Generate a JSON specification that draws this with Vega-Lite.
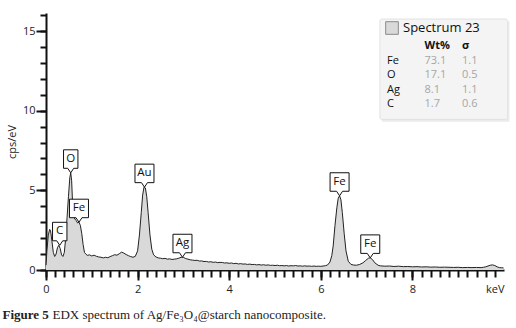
{
  "$schema": "https://vega.github.io/schema/vega-lite/v6.json",
  "width": 458,
  "height": 257,
  "autosize": {"type": "none"},
  "padding": {"left": 46, "top": 13, "right": 12, "bottom": 58},
  "background": "white",
  "config": {"view": {"stroke": null}},
  "datasets": {
    "spectrum": [
      {"keV": 0.0, "cps": 0.3}, {"keV": 0.02, "cps": 1.2}, {"keV": 0.05, "cps": 2.2}, {"keV": 0.08, "cps": 2.55},
      {"keV": 0.1, "cps": 2.45}, {"keV": 0.13, "cps": 1.8}, {"keV": 0.16, "cps": 1.1}, {"keV": 0.19, "cps": 0.85},
      {"keV": 0.22, "cps": 1.0}, {"keV": 0.25, "cps": 1.4}, {"keV": 0.28, "cps": 1.55}, {"keV": 0.31, "cps": 1.35},
      {"keV": 0.34, "cps": 0.95}, {"keV": 0.37, "cps": 0.85}, {"keV": 0.4, "cps": 1.1}, {"keV": 0.43, "cps": 2.0},
      {"keV": 0.46, "cps": 3.3}, {"keV": 0.49, "cps": 4.6}, {"keV": 0.52, "cps": 5.8}, {"keV": 0.54, "cps": 6.1},
      {"keV": 0.56, "cps": 5.6}, {"keV": 0.58, "cps": 4.2}, {"keV": 0.6, "cps": 3.4}, {"keV": 0.63, "cps": 3.2},
      {"keV": 0.66, "cps": 3.1}, {"keV": 0.69, "cps": 2.95}, {"keV": 0.72, "cps": 3.0}, {"keV": 0.75, "cps": 2.8},
      {"keV": 0.78, "cps": 2.3}, {"keV": 0.81, "cps": 1.6}, {"keV": 0.84, "cps": 1.1}, {"keV": 0.87, "cps": 1.0},
      {"keV": 0.9, "cps": 0.92}, {"keV": 0.95, "cps": 0.95}, {"keV": 1.0, "cps": 0.88}, {"keV": 1.05, "cps": 0.93},
      {"keV": 1.1, "cps": 0.86}, {"keV": 1.15, "cps": 0.82}, {"keV": 1.2, "cps": 0.8}, {"keV": 1.25, "cps": 0.76},
      {"keV": 1.3, "cps": 0.8}, {"keV": 1.35, "cps": 0.77}, {"keV": 1.4, "cps": 0.84}, {"keV": 1.45, "cps": 0.9},
      {"keV": 1.5, "cps": 0.96}, {"keV": 1.55, "cps": 0.93}, {"keV": 1.6, "cps": 1.02}, {"keV": 1.65, "cps": 1.12},
      {"keV": 1.7, "cps": 1.06}, {"keV": 1.75, "cps": 0.97}, {"keV": 1.8, "cps": 0.9}, {"keV": 1.85, "cps": 0.84},
      {"keV": 1.9, "cps": 0.8}, {"keV": 1.95, "cps": 0.86}, {"keV": 2.0, "cps": 1.2}, {"keV": 2.04, "cps": 2.2},
      {"keV": 2.08, "cps": 3.6}, {"keV": 2.11, "cps": 4.7}, {"keV": 2.14, "cps": 5.2}, {"keV": 2.17, "cps": 5.15},
      {"keV": 2.2, "cps": 4.6}, {"keV": 2.23, "cps": 3.6}, {"keV": 2.27, "cps": 2.2}, {"keV": 2.31, "cps": 1.3},
      {"keV": 2.35, "cps": 0.95}, {"keV": 2.4, "cps": 0.82}, {"keV": 2.45, "cps": 0.76}, {"keV": 2.5, "cps": 0.74},
      {"keV": 2.55, "cps": 0.71}, {"keV": 2.6, "cps": 0.73}, {"keV": 2.65, "cps": 0.68}, {"keV": 2.7, "cps": 0.7},
      {"keV": 2.75, "cps": 0.66}, {"keV": 2.8, "cps": 0.68}, {"keV": 2.85, "cps": 0.7}, {"keV": 2.9, "cps": 0.74},
      {"keV": 2.95, "cps": 0.8}, {"keV": 3.0, "cps": 0.79}, {"keV": 3.05, "cps": 0.72}, {"keV": 3.1, "cps": 0.68},
      {"keV": 3.15, "cps": 0.64}, {"keV": 3.2, "cps": 0.62}, {"keV": 3.25, "cps": 0.6}, {"keV": 3.3, "cps": 0.61},
      {"keV": 3.35, "cps": 0.56}, {"keV": 3.4, "cps": 0.57}, {"keV": 3.45, "cps": 0.53}, {"keV": 3.5, "cps": 0.54},
      {"keV": 3.55, "cps": 0.5}, {"keV": 3.6, "cps": 0.52}, {"keV": 3.65, "cps": 0.48}, {"keV": 3.7, "cps": 0.5},
      {"keV": 3.75, "cps": 0.46}, {"keV": 3.8, "cps": 0.48}, {"keV": 3.85, "cps": 0.47}, {"keV": 3.9, "cps": 0.44},
      {"keV": 3.95, "cps": 0.45}, {"keV": 4.0, "cps": 0.42}, {"keV": 4.05, "cps": 0.44}, {"keV": 4.1, "cps": 0.4},
      {"keV": 4.15, "cps": 0.42}, {"keV": 4.2, "cps": 0.38}, {"keV": 4.25, "cps": 0.4}, {"keV": 4.3, "cps": 0.37},
      {"keV": 4.35, "cps": 0.38}, {"keV": 4.4, "cps": 0.35}, {"keV": 4.45, "cps": 0.37}, {"keV": 4.5, "cps": 0.34},
      {"keV": 4.55, "cps": 0.35}, {"keV": 4.6, "cps": 0.32}, {"keV": 4.65, "cps": 0.34}, {"keV": 4.7, "cps": 0.31},
      {"keV": 4.75, "cps": 0.33}, {"keV": 4.8, "cps": 0.3}, {"keV": 4.85, "cps": 0.32}, {"keV": 4.9, "cps": 0.29},
      {"keV": 4.95, "cps": 0.3}, {"keV": 5.0, "cps": 0.28}, {"keV": 5.05, "cps": 0.3}, {"keV": 5.1, "cps": 0.27},
      {"keV": 5.15, "cps": 0.28}, {"keV": 5.2, "cps": 0.26}, {"keV": 5.25, "cps": 0.28}, {"keV": 5.3, "cps": 0.25},
      {"keV": 5.35, "cps": 0.27}, {"keV": 5.4, "cps": 0.26}, {"keV": 5.45, "cps": 0.28}, {"keV": 5.5, "cps": 0.25},
      {"keV": 5.55, "cps": 0.26}, {"keV": 5.6, "cps": 0.24}, {"keV": 5.65, "cps": 0.26}, {"keV": 5.7, "cps": 0.24},
      {"keV": 5.75, "cps": 0.25}, {"keV": 5.8, "cps": 0.23}, {"keV": 5.85, "cps": 0.25}, {"keV": 5.9, "cps": 0.23},
      {"keV": 5.95, "cps": 0.24}, {"keV": 6.0, "cps": 0.23}, {"keV": 6.05, "cps": 0.25}, {"keV": 6.1, "cps": 0.27},
      {"keV": 6.15, "cps": 0.32}, {"keV": 6.2, "cps": 0.5}, {"keV": 6.24, "cps": 0.9}, {"keV": 6.27, "cps": 1.5},
      {"keV": 6.31, "cps": 2.8}, {"keV": 6.35, "cps": 3.9}, {"keV": 6.38, "cps": 4.5}, {"keV": 6.41, "cps": 4.66},
      {"keV": 6.44, "cps": 4.4}, {"keV": 6.47, "cps": 3.6}, {"keV": 6.51, "cps": 2.3}, {"keV": 6.55, "cps": 1.2},
      {"keV": 6.6, "cps": 0.55}, {"keV": 6.66, "cps": 0.35}, {"keV": 6.72, "cps": 0.31}, {"keV": 6.78, "cps": 0.3},
      {"keV": 6.85, "cps": 0.35}, {"keV": 6.92, "cps": 0.45}, {"keV": 6.98, "cps": 0.6}, {"keV": 7.04, "cps": 0.74},
      {"keV": 7.08, "cps": 0.76}, {"keV": 7.13, "cps": 0.65}, {"keV": 7.18, "cps": 0.45}, {"keV": 7.25, "cps": 0.3},
      {"keV": 7.3, "cps": 0.26}, {"keV": 7.4, "cps": 0.24}, {"keV": 7.5, "cps": 0.25}, {"keV": 7.6, "cps": 0.22},
      {"keV": 7.7, "cps": 0.24}, {"keV": 7.8, "cps": 0.21}, {"keV": 7.9, "cps": 0.22}, {"keV": 8.0, "cps": 0.2},
      {"keV": 8.1, "cps": 0.21}, {"keV": 8.2, "cps": 0.19}, {"keV": 8.3, "cps": 0.2}, {"keV": 8.4, "cps": 0.18},
      {"keV": 8.5, "cps": 0.19}, {"keV": 8.6, "cps": 0.17}, {"keV": 8.7, "cps": 0.18}, {"keV": 8.8, "cps": 0.17},
      {"keV": 8.9, "cps": 0.16}, {"keV": 9.0, "cps": 0.17}, {"keV": 9.1, "cps": 0.15}, {"keV": 9.2, "cps": 0.16},
      {"keV": 9.3, "cps": 0.15}, {"keV": 9.4, "cps": 0.16}, {"keV": 9.5, "cps": 0.15}, {"keV": 9.55, "cps": 0.17},
      {"keV": 9.6, "cps": 0.2}, {"keV": 9.65, "cps": 0.25}, {"keV": 9.7, "cps": 0.3}, {"keV": 9.75, "cps": 0.32},
      {"keV": 9.8, "cps": 0.28}, {"keV": 9.85, "cps": 0.2}, {"keV": 9.9, "cps": 0.15}, {"keV": 9.95, "cps": 0.14},
      {"keV": 9.99, "cps": 0.13}
    ],
    "peaks": [
      {"el": "C", "keV": 0.3, "cps": 1.55},
      {"el": "O", "keV": 0.54, "cps": 6.1},
      {"el": "Fe", "keV": 0.72, "cps": 3.0},
      {"el": "Au", "keV": 2.15, "cps": 5.2},
      {"el": "Ag", "keV": 2.98, "cps": 0.8},
      {"el": "Fe", "keV": 6.41, "cps": 4.66},
      {"el": "Fe", "keV": 7.08, "cps": 0.76}
    ],
    "table": [
      {"el": "Fe", "wt": "73.1", "sigma": "1.1"},
      {"el": "O", "wt": "17.1", "sigma": "0.5"},
      {"el": "Ag", "wt": "8.1", "sigma": "1.1"},
      {"el": "C", "wt": "1.7", "sigma": "0.6"}
    ],
    "header": [
      {"el": "hdr", "col": "wt", "txt": "Wt%"},
      {"el": "hdr", "col": "sigma", "txt": "σ"}
    ]
  },
  "resolve": {
    "scale": {"x": "independent", "y": "independent"},
    "axis": {"x": "independent", "y": "independent"}
  },
  "layer": [
    {
      "data": {"name": "spectrum"},
      "mark": {"type": "area", "line": false, "interpolate": "linear"},
      "encoding": {
        "x": {
          "field": "keV", "type": "quantitative",
          "scale": {"domain": [0, 10], "nice": false, "zero": false},
          "axis": {
            "orient": "bottom",
            "values": [0, 2, 4, 6, 8, 10],
            "labelExpr": "datum.value == 10 ? 'keV' : datum.label",
            "labelAlign": {"condition": {"test": "datum.value == 10", "value": "right"}, "value": "center"},
            "tickColor": {"condition": {"test": "datum.value == 10", "value": "transparent"}, "value": "#111"},
            "tickSize": 10, "tickWidth": 2,
            "domain": true, "domainColor": "#111", "domainWidth": 2,
            "grid": false,
            "labelFont": "Open Sans", "labelFontSize": 11, "labelColor": "#222", "labelPadding": 3,
            "labelFlush": false, "labelOverlap": false,
            "title": "Figure 5",
            "titleFont": "Liberation Serif", "titleFontSize": 13, "titleFontWeight": "bold", "titleColor": "#222",
            "titleX": -44, "titleY": 48, "titleAlign": "left", "titleBaseline": "alphabetic", "titleAnchor": "start"
          }
        },
        "y": {
          "field": "cps", "type": "quantitative",
          "scale": {"domain": [0, 16.13], "nice": false, "zero": true},
          "axis": {
            "orient": "left",
            "values": [0, 5, 10, 15],
            "tickSize": 10, "tickWidth": 2, "tickColor": "#111",
            "domain": true, "domainColor": "#111", "domainWidth": 2,
            "grid": false,
            "labelFont": "Open Sans", "labelFontSize": 11, "labelColor": "#222", "labelPadding": 1,
            "labelFlush": false, "labelOverlap": false,
            "title": "cps/eV",
            "titleFont": "Open Sans", "titleFontSize": 11, "titleFontWeight": "normal", "titleColor": "#222",
            "titleX": -34, "titleY": 128.5, "titleAngle": 270, "titleAlign": "center", "titleBaseline": "middle"
          }
        },
        "fill": {
          "datum": "Spectrum 23", "type": "nominal",
          "scale": {"range": ["#d9d9d9"]},
          "legend": {
            "orient": "none", "legendX": 339, "legendY": 8, "title": null,
            "symbolType": "square", "symbolSize": 160,
            "symbolStrokeColor": "#8a8a8a", "symbolStrokeWidth": 1,
            "labelFont": "Open Sans", "labelFontSize": 13, "labelColor": "#111", "labelOffset": 4,
            "padding": 0,
            "encode": {"symbols": {"update": {"fill": {"value": "#a9a9a9"}, "stroke": {"value": "#8a8a8a"}, "opacity": {"value": 1}}}}
          }
        }
      }
    },
    {
      "data": {"name": "spectrum"},
      "mark": {"type": "line", "color": "#222", "strokeWidth": 1, "interpolate": "linear"},
      "encoding": {
        "x": {
          "field": "keV", "type": "quantitative",
          "scale": {"domain": [0, 10], "nice": false, "zero": false},
          "axis": {
            "orient": "bottom",
            "values": [0, 0.2, 0.4, 0.6, 0.8, 1, 1.2, 1.4, 1.6, 1.8, 2, 2.2, 2.4, 2.6, 2.8, 3, 3.2, 3.4, 3.6, 3.8, 4, 4.2, 4.4, 4.6, 4.8, 5, 5.2, 5.4, 5.6, 5.8, 6, 6.2, 6.4, 6.6, 6.8, 7, 7.2, 7.4, 7.6, 7.8, 8, 8.2, 8.4, 8.6, 8.8, 9, 9.2, 9.4, 9.6, 9.8],
            "tickSize": 7, "tickWidth": 2, "tickColor": "#111",
            "domain": false, "grid": false, "labels": false,
            "title": "EDX spectrum of Ag/Fe₃O₄@starch nanocomposite.",
            "titleFont": "Liberation Serif", "titleFontSize": 13, "titleFontWeight": "normal", "titleColor": "#222",
            "titleX": 6, "titleY": 48, "titleAlign": "left", "titleBaseline": "alphabetic", "titleAnchor": "start"
          }
        },
        "y": {
          "field": "cps", "type": "quantitative",
          "scale": {"domain": [0, 16.13], "nice": false, "zero": true},
          "axis": {
            "orient": "left",
            "values": [0, 1, 2, 3, 4, 5, 6, 7, 8, 9, 10, 11, 12, 13, 14, 15, 16],
            "tickSize": 6, "tickWidth": 2, "tickColor": "#111",
            "domain": false, "grid": false, "labels": false, "title": null
          }
        }
      }
    },
    {
      "data": {"values": [{}]},
      "mark": {"type": "rect", "color": "#000", "opacity": 0.08},
      "encoding": {
        "x": {"datum": 7.33, "type": "quantitative", "scale": {"domain": [0, 10], "nice": false, "zero": false}, "axis": null},
        "x2": {"datum": 10.12},
        "y": {"datum": 15.6, "type": "quantitative", "scale": {"domain": [0, 16.13], "nice": false, "zero": true}, "axis": null},
        "y2": {"datum": 9.3}
      }
    },
    {
      "data": {"values": [{}]},
      "mark": {"type": "rect", "color": "#f4f4f4", "stroke": "#e2e2e2", "strokeWidth": 1, "cornerRadius": 2, "opacity": 1},
      "encoding": {
        "x": {"datum": 7.29, "type": "quantitative", "scale": {"domain": [0, 10], "nice": false, "zero": false}, "axis": null},
        "x2": {"datum": 10.08},
        "y": {"datum": 15.75, "type": "quantitative", "scale": {"domain": [0, 16.13], "nice": false, "zero": true}, "axis": null},
        "y2": {"datum": 9.45}
      }
    },
    {
      "data": {"name": "table"},
      "transform": [{"fold": ["el", "wt", "sigma"], "as": ["col", "txt"]}],
      "mark": {"type": "text", "align": "left", "baseline": "middle", "font": "Open Sans", "fontSize": 11},
      "encoding": {
        "x": {"field": "col", "type": "nominal", "scale": {"type": "point", "domain": ["el", "wt", "sigma"], "range": [341, 416], "padding": 0}, "axis": null},
        "y": {"field": "el", "type": "nominal", "scale": {"type": "point", "domain": ["hdr", "Fe", "O", "Ag", "C"], "range": [33, 91], "padding": 0}, "axis": null},
        "text": {"field": "txt"},
        "color": {"condition": {"test": "datum.col == 'el'", "value": "#111"}, "value": "#a6a6a6"}
      }
    },
    {
      "data": {"name": "header"},
      "mark": {"type": "text", "align": "left", "baseline": "middle", "font": "Open Sans", "fontSize": 11, "fontWeight": "bold", "color": "#111"},
      "encoding": {
        "x": {"field": "col", "type": "nominal", "scale": {"type": "point", "domain": ["el", "wt", "sigma"], "range": [341, 416], "padding": 0}, "axis": null},
        "y": {"field": "el", "type": "nominal", "scale": {"type": "point", "domain": ["hdr", "Fe", "O", "Ag", "C"], "range": [33, 91], "padding": 0}, "axis": null},
        "text": {"field": "txt"}
      }
    },
    {
      "data": {"name": "peaks"},
      "mark": {"type": "point", "filled": true, "fill": "white", "stroke": "#111", "strokeWidth": 1, "size": 400, "opacity": 1},
      "encoding": {
        "x": {"field": "keV", "type": "quantitative", "scale": {"domain": [0, 10], "nice": false, "zero": false}, "axis": null},
        "y": {"field": "cps", "type": "quantitative", "scale": {"domain": [0, 16.13], "nice": false, "zero": true}, "axis": null},
        "shape": {
          "condition": {"test": "datum.el == 'O' || datum.el == 'C'", "value": "M0,0 L-0.3,-0.45 L-0.72,-0.45 L-0.72,-2.3 L0.72,-2.3 L0.72,-0.45 L0.3,-0.45 Z"},
          "value": "M0,0 L-0.3,-0.45 L-0.95,-0.45 L-0.95,-2.3 L0.95,-2.3 L0.95,-0.45 L0.3,-0.45 Z"
        }
      }
    },
    {
      "data": {"name": "peaks"},
      "mark": {"type": "text", "align": "center", "baseline": "middle", "dy": -14, "font": "Open Sans", "fontSize": 11.5, "color": "#111"},
      "encoding": {
        "x": {"field": "keV", "type": "quantitative", "scale": {"domain": [0, 10], "nice": false, "zero": false}, "axis": null},
        "y": {"field": "cps", "type": "quantitative", "scale": {"domain": [0, 16.13], "nice": false, "zero": true}, "axis": null},
        "text": {"field": "el"}
      }
    }
  ]
}
